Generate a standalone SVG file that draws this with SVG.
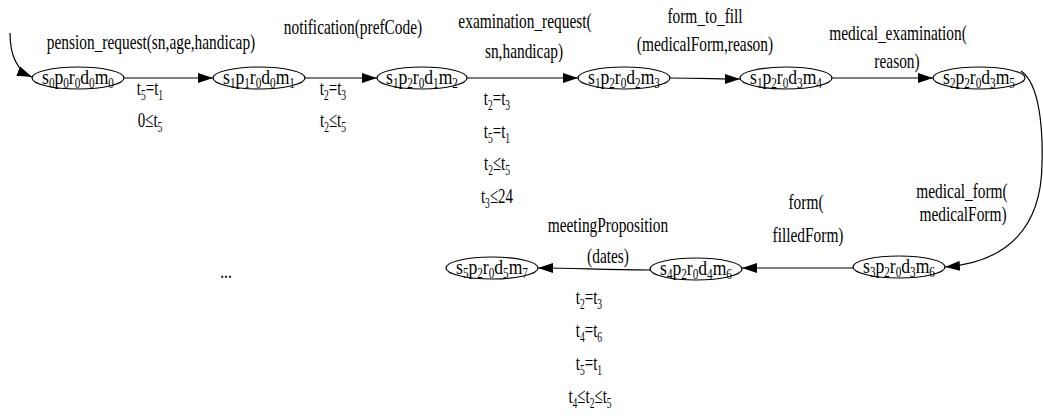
<svg xmlns="http://www.w3.org/2000/svg" width="1043" height="418" viewBox="0 0 1043 418" font-family="'Liberation Serif','Times New Roman',serif">
<style>
text{font-family:"Liberation Serif","Times New Roman",serif;font-size:22px;fill:#000;text-anchor:middle}
.s{font-size:14px}
ellipse{fill:#fff;stroke:#000;stroke-width:1.2}
.e{fill:none;stroke:#000;stroke-width:1.2}
</style>
<defs>
<marker id="ah" markerUnits="userSpaceOnUse" markerWidth="15" markerHeight="10" refX="15" refY="5" orient="auto">
<path d="M0,0 L15,5 L0,10 z" fill="#000"/>
</marker>
</defs>
<rect width="1043" height="418" fill="#fff"/>
<g id="connectors">
<path class="e" d="M10,33 C10,58 18,71 32,77" marker-end="url(#ah)"/>
<line class="e" x1="124" y1="78" x2="213" y2="78" marker-end="url(#ah)"/>
<line class="e" x1="305" y1="78" x2="377" y2="78" marker-end="url(#ah)"/>
<line class="e" x1="467" y1="78" x2="578" y2="78" marker-end="url(#ah)"/>
<path class="e" d="M670,78 C700,78 720,79 740,79" marker-end="url(#ah)"/>
<line class="e" x1="832" y1="78" x2="933" y2="78" marker-end="url(#ah)"/>
<path class="e" d="M1021,71 C1040,84 1043,130 1042,165 C1041,225 1010,262 945,267" marker-end="url(#ah)"/>
<line class="e" x1="853" y1="268" x2="742" y2="268" marker-end="url(#ah)"/>
<path class="e" d="M650,270 C600,270 580,268 538,268" marker-end="url(#ah)"/>
</g>
<g id="edge-labels">
<text transform="translate(151,49) scale(0.7,1)">pension_request(sn,age,handicap)</text>
<text transform="translate(150,95) scale(0.68,1)">t<tspan class="s" dy="5">5</tspan><tspan dy="-5">=t</tspan><tspan class="s" dy="5">1</tspan></text>
<text transform="translate(150,127) scale(0.68,1)">0≤t<tspan class="s" dy="5">5</tspan></text>
<text transform="translate(353,34) scale(0.7,1)">notification(prefCode)</text>
<text transform="translate(333,95) scale(0.68,1)">t<tspan class="s" dy="5">2</tspan><tspan dy="-5">=t</tspan><tspan class="s" dy="5">3</tspan></text>
<text transform="translate(333,127) scale(0.68,1)">t<tspan class="s" dy="5">2</tspan><tspan dy="-5">≤t</tspan><tspan class="s" dy="5">5</tspan></text>
<text transform="translate(525,28) scale(0.7,1)">examination_request(</text>
<text transform="translate(524,58) scale(0.7,1)">sn,handicap)</text>
<text transform="translate(497,105) scale(0.68,1)">t<tspan class="s" dy="5">2</tspan><tspan dy="-5">=t</tspan><tspan class="s" dy="5">3</tspan></text>
<text transform="translate(497,138) scale(0.68,1)">t<tspan class="s" dy="5">5</tspan><tspan dy="-5">=t</tspan><tspan class="s" dy="5">1</tspan></text>
<text transform="translate(497,170) scale(0.68,1)">t<tspan class="s" dy="5">2</tspan><tspan dy="-5">≤t</tspan><tspan class="s" dy="5">5</tspan></text>
<text transform="translate(497,203) scale(0.68,1)">t<tspan class="s" dy="5">3</tspan><tspan dy="-5">≤24</tspan></text>
<text transform="translate(705,23) scale(0.7,1)">form_to_fill</text>
<text transform="translate(705,51) scale(0.7,1)">(medicalForm,reason)</text>
<text transform="translate(898,40) scale(0.7,1)">medical_examination(</text>
<text transform="translate(897,68) scale(0.7,1)">reason)</text>
<text transform="translate(962,198) scale(0.7,1)">medical_form(</text>
<text transform="translate(963,221) scale(0.7,1)">medicalForm)</text>
<text transform="translate(806,209) scale(0.7,1)">form(</text>
<text transform="translate(808,242) scale(0.7,1)">filledForm)</text>
<text transform="translate(608,232) scale(0.7,1)">meetingProposition</text>
<text transform="translate(608,263) scale(0.7,1)">(dates)</text>
<text transform="translate(589,304) scale(0.68,1)">t<tspan class="s" dy="5">2</tspan><tspan dy="-5">=t</tspan><tspan class="s" dy="5">3</tspan></text>
<text transform="translate(589,337) scale(0.68,1)">t<tspan class="s" dy="5">4</tspan><tspan dy="-5">=t</tspan><tspan class="s" dy="5">6</tspan></text>
<text transform="translate(589,370) scale(0.68,1)">t<tspan class="s" dy="5">5</tspan><tspan dy="-5">=t</tspan><tspan class="s" dy="5">1</tspan></text>
<text transform="translate(590,403) scale(0.68,1)">t<tspan class="s" dy="5">4</tspan><tspan dy="-5">≤t</tspan><tspan class="s" dy="5">2</tspan><tspan dy="-5">≤t</tspan><tspan class="s" dy="5">5</tspan></text>
<text transform="translate(226,278) scale(0.7,1)">...</text>
</g>
<g id="n0"><ellipse cx="78" cy="78" rx="46" ry="11"/><text transform="translate(78,84) scale(0.8,1)">s<tspan class="s" dy="4">0</tspan><tspan dy="-4">p</tspan><tspan class="s" dy="4">0</tspan><tspan dy="-4">r</tspan><tspan class="s" dy="4">0</tspan><tspan dy="-4">d</tspan><tspan class="s" dy="4">0</tspan><tspan dy="-4">m</tspan><tspan class="s" dy="4">0</tspan></text></g>
<g id="n1"><ellipse cx="259" cy="78" rx="46" ry="11"/><text transform="translate(259,84) scale(0.8,1)">s<tspan class="s" dy="4">1</tspan><tspan dy="-4">p</tspan><tspan class="s" dy="4">1</tspan><tspan dy="-4">r</tspan><tspan class="s" dy="4">0</tspan><tspan dy="-4">d</tspan><tspan class="s" dy="4">0</tspan><tspan dy="-4">m</tspan><tspan class="s" dy="4">1</tspan></text></g>
<g id="n2"><ellipse cx="422" cy="78" rx="45" ry="11"/><text transform="translate(422,84) scale(0.8,1)">s<tspan class="s" dy="4">1</tspan><tspan dy="-4">p</tspan><tspan class="s" dy="4">2</tspan><tspan dy="-4">r</tspan><tspan class="s" dy="4">0</tspan><tspan dy="-4">d</tspan><tspan class="s" dy="4">1</tspan><tspan dy="-4">m</tspan><tspan class="s" dy="4">2</tspan></text></g>
<g id="n3"><ellipse cx="624" cy="78" rx="46" ry="11"/><text transform="translate(624,84) scale(0.8,1)">s<tspan class="s" dy="4">1</tspan><tspan dy="-4">p</tspan><tspan class="s" dy="4">2</tspan><tspan dy="-4">r</tspan><tspan class="s" dy="4">0</tspan><tspan dy="-4">d</tspan><tspan class="s" dy="4">2</tspan><tspan dy="-4">m</tspan><tspan class="s" dy="4">3</tspan></text></g>
<g id="n4"><ellipse cx="786" cy="78" rx="46" ry="11"/><text transform="translate(786,84) scale(0.8,1)">s<tspan class="s" dy="4">1</tspan><tspan dy="-4">p</tspan><tspan class="s" dy="4">2</tspan><tspan dy="-4">r</tspan><tspan class="s" dy="4">0</tspan><tspan dy="-4">d</tspan><tspan class="s" dy="4">3</tspan><tspan dy="-4">m</tspan><tspan class="s" dy="4">4</tspan></text></g>
<g id="n5"><ellipse cx="979" cy="78" rx="46" ry="11"/><text transform="translate(979,84) scale(0.8,1)">s<tspan class="s" dy="4">2</tspan><tspan dy="-4">p</tspan><tspan class="s" dy="4">2</tspan><tspan dy="-4">r</tspan><tspan class="s" dy="4">0</tspan><tspan dy="-4">d</tspan><tspan class="s" dy="4">3</tspan><tspan dy="-4">m</tspan><tspan class="s" dy="4">5</tspan></text></g>
<g id="n6"><ellipse cx="899" cy="267" rx="46" ry="11"/><text transform="translate(899,273) scale(0.8,1)">s<tspan class="s" dy="4">3</tspan><tspan dy="-4">p</tspan><tspan class="s" dy="4">2</tspan><tspan dy="-4">r</tspan><tspan class="s" dy="4">0</tspan><tspan dy="-4">d</tspan><tspan class="s" dy="4">3</tspan><tspan dy="-4">m</tspan><tspan class="s" dy="4">6</tspan></text></g>
<g id="n7"><ellipse cx="696" cy="269" rx="46" ry="11"/><text transform="translate(696,275) scale(0.8,1)">s<tspan class="s" dy="4">4</tspan><tspan dy="-4">p</tspan><tspan class="s" dy="4">2</tspan><tspan dy="-4">r</tspan><tspan class="s" dy="4">0</tspan><tspan dy="-4">d</tspan><tspan class="s" dy="4">4</tspan><tspan dy="-4">m</tspan><tspan class="s" dy="4">6</tspan></text></g>
<g id="n8"><ellipse cx="492" cy="268" rx="46" ry="11"/><text transform="translate(492,274) scale(0.8,1)">s<tspan class="s" dy="4">5</tspan><tspan dy="-4">p</tspan><tspan class="s" dy="4">2</tspan><tspan dy="-4">r</tspan><tspan class="s" dy="4">0</tspan><tspan dy="-4">d</tspan><tspan class="s" dy="4">5</tspan><tspan dy="-4">m</tspan><tspan class="s" dy="4">7</tspan></text></g>
</svg>
